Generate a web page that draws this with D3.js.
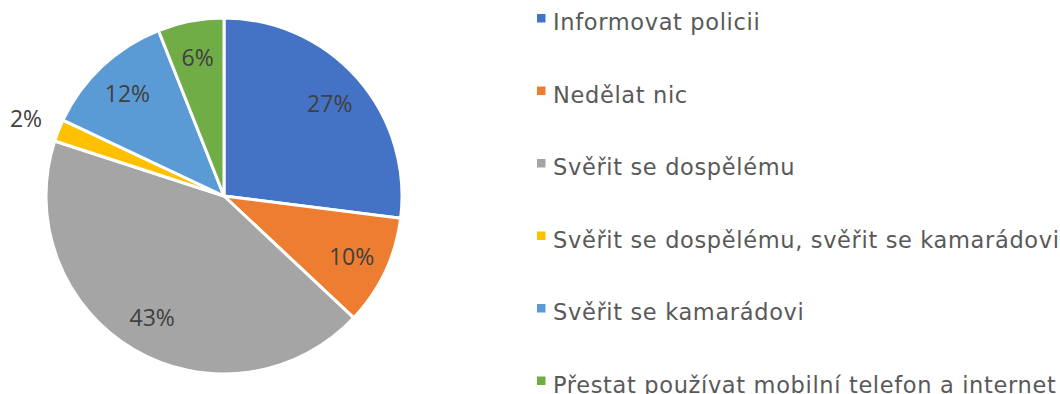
<!DOCTYPE html>
<html>
<head>
<meta charset="utf-8">
<script src="https://cdn.jsdelivr.net/npm/d3@7"></script>
<style>
  html, body { margin: 0; padding: 0; background: #fff; }
  svg { display: block; }
</style>
</head>
<body>
<svg id="chart" width="1060" height="394"></svg>
<script>
// Answers and their shares (percent)
const categories = [
  "Informovat policii",
  "Nedělat nic",
  "Svěřit se dospělému",
  "Svěřit se dospělému, svěřit se kamarádovi",
  "Svěřit se kamarádovi",
  "Přestat používat mobilní telefon a internet"
];
const shares = [27, 10, 43, 2, 12, 6];
const colors = ["#4472C4", "#ED7D31", "#A5A5A5", "#FFC000", "#5B9BD5", "#70AD47"];

const svg = d3.select("#chart");
const cx = 224, cy = 196, radius = 178;

const data = categories.map((c, i) => ({ name: c, value: shares[i], color: colors[i] }));

const pie = d3.pie().sort(null).value(d => d.value);
const arcs = pie(data);

const arc = d3.arc().innerRadius(0).outerRadius(radius);
const labelArc = d3.arc().innerRadius(141).outerRadius(141);
const outerLabelArc = d3.arc().innerRadius(213).outerRadius(213);

const g = svg.append("g").attr("transform", `translate(${cx},${cy})`);

g.selectAll("path.slice")
  .data(arcs)
  .join("path")
  .attr("class", "slice")
  .attr("d", arc)
  .attr("fill", d => d.data.color)
  .attr("stroke", "#fff")
  .attr("stroke-width", 3)
  .attr("stroke-linejoin", "round");

// Percentage labels; thin slices get their label outside the pie
g.selectAll("text.pct")
  .data(arcs)
  .join("text")
  .attr("class", "pct")
  .attr("transform", d => {
    const p = (d.data.value < 5 ? outerLabelArc : labelArc).centroid(d);
    return `translate(${p[0]},${p[1]})`;
  })
  .attr("text-anchor", "middle")
  .attr("dominant-baseline", "central")
  .attr("font-family", "'Open Sans', sans-serif")
  .attr("font-size", 23)
  .attr("fill", "#404040")
  .text(d => d.data.value + "%");

// Legend
const legend = svg.append("g").attr("transform", "translate(537,0)");
const legendY = d3.scalePoint().domain(categories).range([18.5, 381]);

const item = legend.selectAll("g.item")
  .data(data)
  .join("g")
  .attr("class", "item")
  .attr("transform", d => `translate(0,${legendY(d.name)})`);

item.append("rect")
  .attr("x", 0).attr("y", -4.5)
  .attr("width", 8.5).attr("height", 8.5)
  .attr("fill", d => d.color);

item.append("text")
  .attr("x", 16)
  .attr("y", 11.5)
  .attr("font-family", "'DejaVu Sans', sans-serif")
  .attr("font-size", 22.5)
  .attr("letter-spacing", 0.65)
  .attr("fill", "#595959")
  .text(d => d.name);
</script>
</body>
</html>
